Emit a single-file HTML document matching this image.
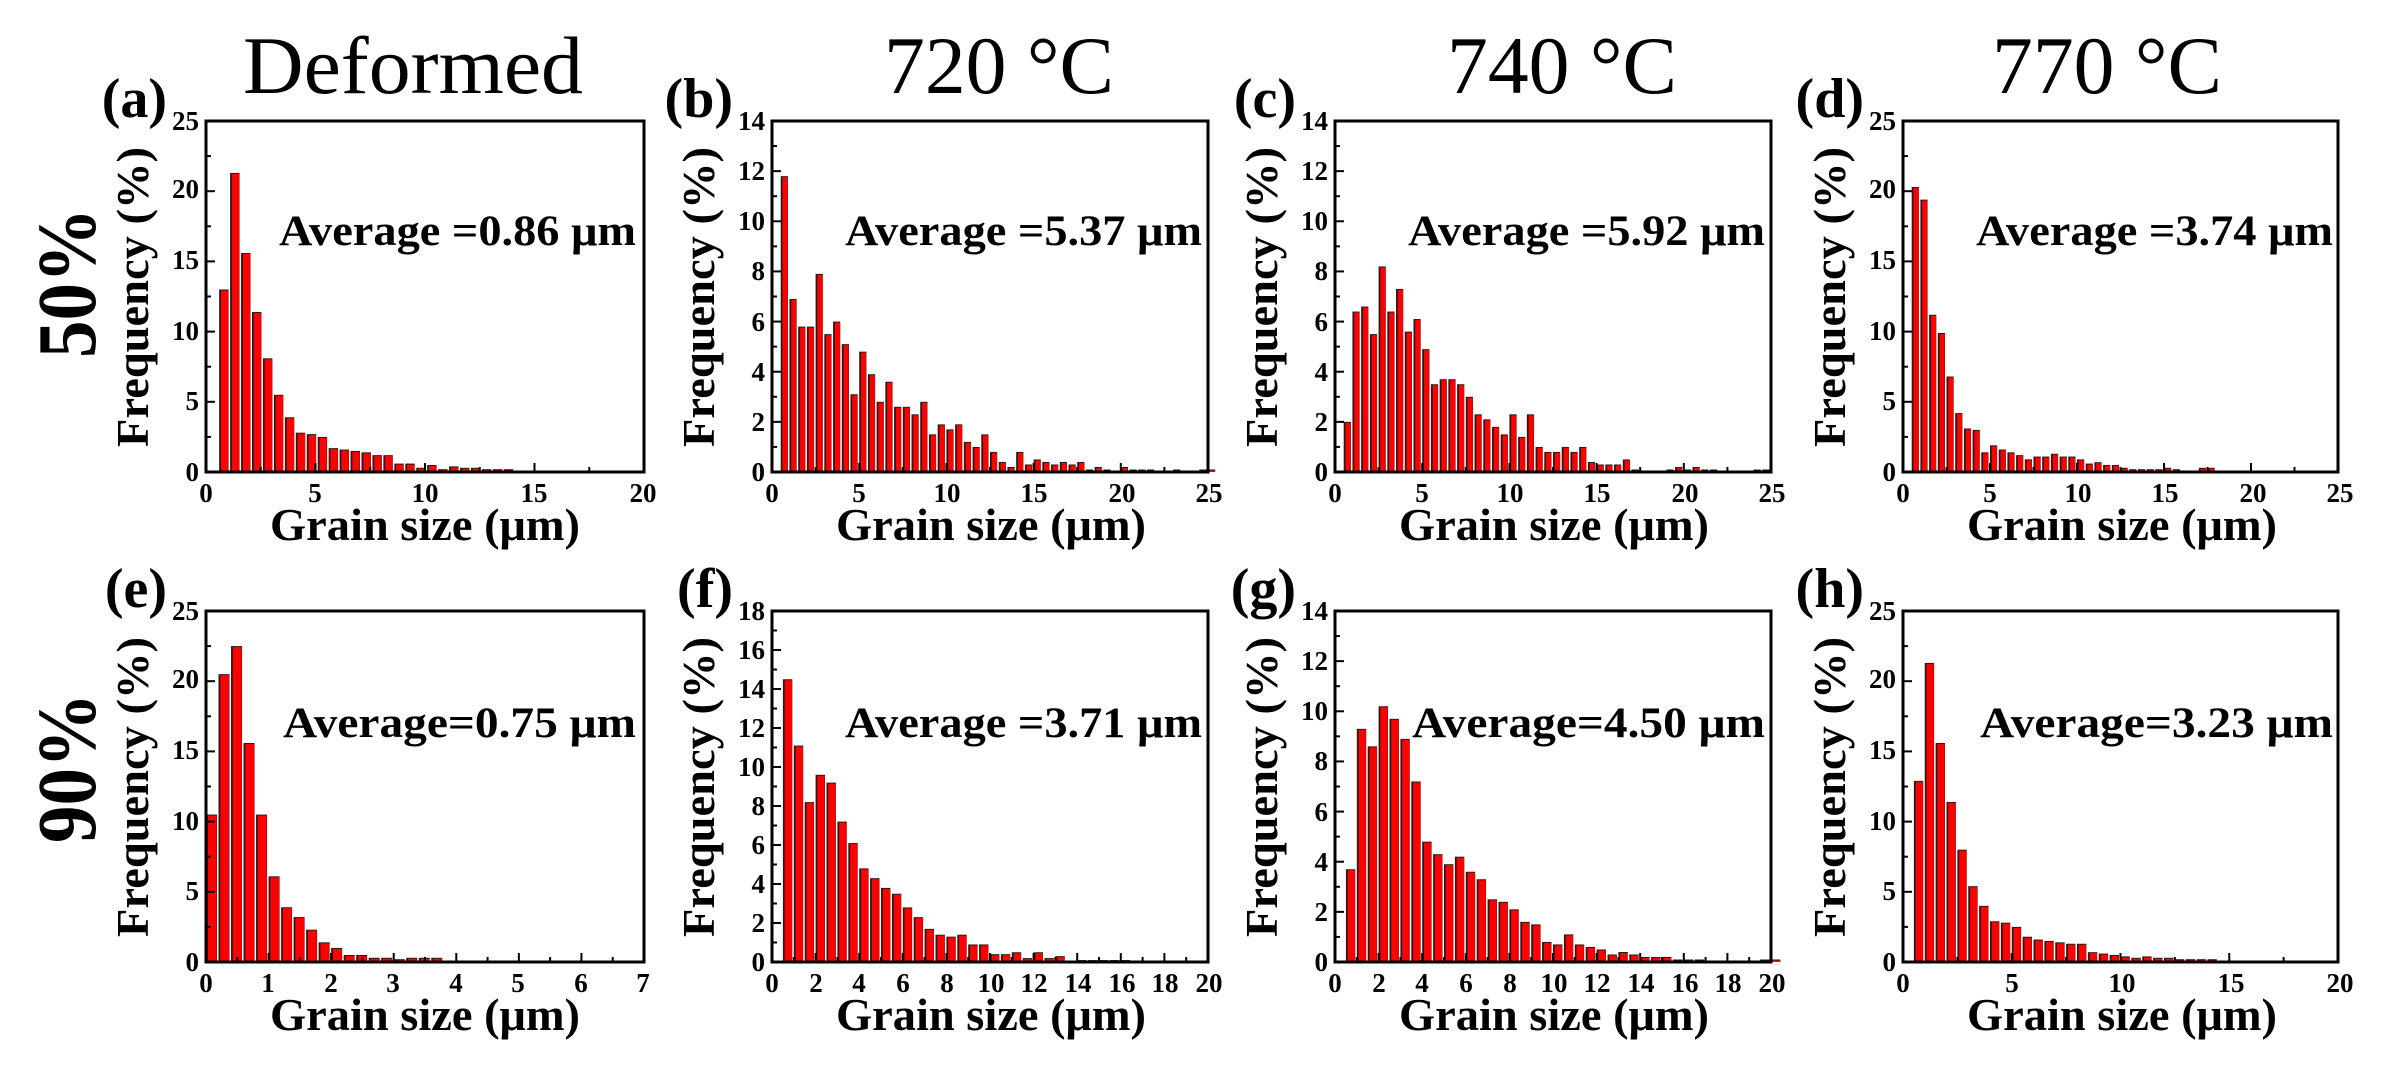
<!DOCTYPE html>
<html><head><meta charset="utf-8"><style>
html,body{margin:0;padding:0;background:#fff;}
svg{display:block;font-family:"Liberation Serif","Noto Serif CJK SC","DejaVu Serif",serif;}
svg text{font-family:"Liberation Serif","Noto Serif CJK SC","DejaVu Serif",serif !important;fill:#000;}
.tk{font-size:27px;font-weight:bold;}
.ax{font-size:46px;font-weight:bold;}
.avg{font-size:43px;font-weight:bold;}
.pl{font-size:56px;font-weight:bold;}
.hd{font-size:82px;}
.rl{font-size:84px;font-weight:bold;}
</style></head><body>
<svg id="s" width="2392" height="1078" viewBox="0 0 2392 1078" xmlns="http://www.w3.org/2000/svg">
<rect width="2392" height="1078" fill="#fff"/>
<text class="hd" x="413" y="93" text-anchor="middle" textLength="340" lengthAdjust="spacingAndGlyphs">Deformed</text>
<text class="hd" x="999" y="93" text-anchor="middle" textLength="230" lengthAdjust="spacingAndGlyphs">720 °C</text>
<text class="hd" x="1562" y="93" text-anchor="middle" textLength="230" lengthAdjust="spacingAndGlyphs">740 °C</text>
<text class="hd" x="2107" y="93" text-anchor="middle" textLength="230" lengthAdjust="spacingAndGlyphs">770 °C</text>
<text class="rl" transform="translate(95,283) rotate(-90)" text-anchor="middle" textLength="150" lengthAdjust="spacingAndGlyphs">50%</text>
<text class="rl" transform="translate(95,768) rotate(-90)" text-anchor="middle" textLength="150" lengthAdjust="spacingAndGlyphs">90%</text>

<!-- (a) -->
<g transform="translate(206,121)">
<g id="pa"></g>
<text class="pl" x="-39" y="-4" text-anchor="end">(a)</text>
<text class="ax" transform="translate(-58,176) rotate(-90)" text-anchor="middle" textLength="300" lengthAdjust="spacingAndGlyphs">Frequency (%)</text>
<text class="ax" x="219" y="419" text-anchor="middle" textLength="310" lengthAdjust="spacingAndGlyphs">Grain size (μm)</text>
<text class="avg" x="73" y="124" textLength="357" lengthAdjust="spacingAndGlyphs">Average =0.86 μm</text>
<g class="tk" text-anchor="middle"><text x="0" y="381">0</text><text x="109" y="381">5</text><text x="219" y="381">10</text><text x="328" y="381">15</text><text x="437" y="381">20</text></g>
<g class="tk" text-anchor="end"><text x="-7" y="360">0</text><text x="-7" y="289">5</text><text x="-7" y="219">10</text><text x="-7" y="148">15</text><text x="-7" y="77">20</text><text x="-7" y="9">25</text></g>
</g>
<!-- (b) -->
<g transform="translate(772,121)">
<g id="pb"></g>
<text class="pl" x="-39" y="-4" text-anchor="end">(b)</text>
<text class="ax" transform="translate(-58,176) rotate(-90)" text-anchor="middle" textLength="300" lengthAdjust="spacingAndGlyphs">Frequency (%)</text>
<text class="ax" x="219" y="419" text-anchor="middle" textLength="310" lengthAdjust="spacingAndGlyphs">Grain size (μm)</text>
<text class="avg" x="73" y="124" textLength="357" lengthAdjust="spacingAndGlyphs">Average =5.37 μm</text>
<g class="tk" text-anchor="middle"><text x="0" y="381">0</text><text x="87" y="381">5</text><text x="175" y="381">10</text><text x="262" y="381">15</text><text x="350" y="381">20</text><text x="437" y="381">25</text></g>
<g class="tk" text-anchor="end"><text x="-7" y="360">0</text><text x="-7" y="310">2</text><text x="-7" y="260">4</text><text x="-7" y="210">6</text><text x="-7" y="159">8</text><text x="-7" y="109">10</text><text x="-7" y="59">12</text><text x="-7" y="9">14</text></g>
</g>
<!-- (c) -->
<g transform="translate(1335,121)">
<g id="pc"></g>
<text class="pl" x="-39" y="-4" text-anchor="end">(c)</text>
<text class="ax" transform="translate(-58,176) rotate(-90)" text-anchor="middle" textLength="300" lengthAdjust="spacingAndGlyphs">Frequency (%)</text>
<text class="ax" x="219" y="419" text-anchor="middle" textLength="310" lengthAdjust="spacingAndGlyphs">Grain size (μm)</text>
<text class="avg" x="73" y="124" textLength="357" lengthAdjust="spacingAndGlyphs">Average =5.92 μm</text>
<g class="tk" text-anchor="middle"><text x="0" y="381">0</text><text x="87" y="381">5</text><text x="175" y="381">10</text><text x="262" y="381">15</text><text x="350" y="381">20</text><text x="437" y="381">25</text></g>
<g class="tk" text-anchor="end"><text x="-7" y="360">0</text><text x="-7" y="310">2</text><text x="-7" y="260">4</text><text x="-7" y="210">6</text><text x="-7" y="159">8</text><text x="-7" y="109">10</text><text x="-7" y="59">12</text><text x="-7" y="9">14</text></g>
</g>
<!-- (d) -->
<g transform="translate(1903,121)">
<g id="pd"></g>
<text class="pl" x="-39" y="-4" text-anchor="end">(d)</text>
<text class="ax" transform="translate(-58,176) rotate(-90)" text-anchor="middle" textLength="300" lengthAdjust="spacingAndGlyphs">Frequency (%)</text>
<text class="ax" x="219" y="419" text-anchor="middle" textLength="310" lengthAdjust="spacingAndGlyphs">Grain size (μm)</text>
<text class="avg" x="73" y="124" textLength="357" lengthAdjust="spacingAndGlyphs">Average =3.74 μm</text>
<g class="tk" text-anchor="middle"><text x="0" y="381">0</text><text x="87" y="381">5</text><text x="175" y="381">10</text><text x="262" y="381">15</text><text x="350" y="381">20</text><text x="437" y="381">25</text></g>
<g class="tk" text-anchor="end"><text x="-7" y="360">0</text><text x="-7" y="289">5</text><text x="-7" y="219">10</text><text x="-7" y="148">15</text><text x="-7" y="77">20</text><text x="-7" y="9">25</text></g>
</g>
<!-- (e) -->
<g transform="translate(206,611)">
<g id="pe"></g>
<text class="pl" x="-39" y="-4" text-anchor="end">(e)</text>
<text class="ax" transform="translate(-58,176) rotate(-90)" text-anchor="middle" textLength="300" lengthAdjust="spacingAndGlyphs">Frequency (%)</text>
<text class="ax" x="219" y="419" text-anchor="middle" textLength="310" lengthAdjust="spacingAndGlyphs">Grain size (μm)</text>
<text class="avg" x="77" y="126" textLength="353" lengthAdjust="spacingAndGlyphs">Average=0.75 μm</text>
<g class="tk" text-anchor="middle"><text x="0" y="381">0</text><text x="62" y="381">1</text><text x="125" y="381">2</text><text x="187" y="381">3</text><text x="250" y="381">4</text><text x="312" y="381">5</text><text x="375" y="381">6</text><text x="437" y="381">7</text></g>
<g class="tk" text-anchor="end"><text x="-7" y="360">0</text><text x="-7" y="289">5</text><text x="-7" y="219">10</text><text x="-7" y="148">15</text><text x="-7" y="77">20</text><text x="-7" y="9">25</text></g>
</g>
<!-- (f) -->
<g transform="translate(772,611)">
<g id="pf"></g>
<text class="pl" x="-39" y="-4" text-anchor="end">(f)</text>
<text class="ax" transform="translate(-58,176) rotate(-90)" text-anchor="middle" textLength="300" lengthAdjust="spacingAndGlyphs">Frequency (%)</text>
<text class="ax" x="219" y="419" text-anchor="middle" textLength="310" lengthAdjust="spacingAndGlyphs">Grain size (μm)</text>
<text class="avg" x="73" y="126" textLength="357" lengthAdjust="spacingAndGlyphs">Average =3.71 μm</text>
<g class="tk" text-anchor="middle"><text x="0" y="381">0</text><text x="44" y="381">2</text><text x="87" y="381">4</text><text x="131" y="381">6</text><text x="175" y="381">8</text><text x="219" y="381">10</text><text x="262" y="381">12</text><text x="306" y="381">14</text><text x="350" y="381">16</text><text x="393" y="381">18</text><text x="437" y="381">20</text></g>
<g class="tk" text-anchor="end"><text x="-7" y="360">0</text><text x="-7" y="321">2</text><text x="-7" y="282">4</text><text x="-7" y="243">6</text><text x="-7" y="204">8</text><text x="-7" y="165">10</text><text x="-7" y="126">12</text><text x="-7" y="87">14</text><text x="-7" y="48">16</text><text x="-7" y="9">18</text></g>
</g>
<!-- (g) -->
<g transform="translate(1335,611)">
<g id="pg"></g>
<text class="pl" x="-39" y="-4" text-anchor="end">(g)</text>
<text class="ax" transform="translate(-58,176) rotate(-90)" text-anchor="middle" textLength="300" lengthAdjust="spacingAndGlyphs">Frequency (%)</text>
<text class="ax" x="219" y="419" text-anchor="middle" textLength="310" lengthAdjust="spacingAndGlyphs">Grain size (μm)</text>
<text class="avg" x="77" y="126" textLength="353" lengthAdjust="spacingAndGlyphs">Average=4.50 μm</text>
<g class="tk" text-anchor="middle"><text x="0" y="381">0</text><text x="44" y="381">2</text><text x="87" y="381">4</text><text x="131" y="381">6</text><text x="175" y="381">8</text><text x="219" y="381">10</text><text x="262" y="381">12</text><text x="306" y="381">14</text><text x="350" y="381">16</text><text x="393" y="381">18</text><text x="437" y="381">20</text></g>
<g class="tk" text-anchor="end"><text x="-7" y="360">0</text><text x="-7" y="310">2</text><text x="-7" y="260">4</text><text x="-7" y="210">6</text><text x="-7" y="159">8</text><text x="-7" y="109">10</text><text x="-7" y="59">12</text><text x="-7" y="9">14</text></g>
</g>
<!-- (h) -->
<g transform="translate(1903,611)">
<g id="ph"></g>
<text class="pl" x="-39" y="-4" text-anchor="end">(h)</text>
<text class="ax" transform="translate(-58,176) rotate(-90)" text-anchor="middle" textLength="300" lengthAdjust="spacingAndGlyphs">Frequency (%)</text>
<text class="ax" x="219" y="419" text-anchor="middle" textLength="310" lengthAdjust="spacingAndGlyphs">Grain size (μm)</text>
<text class="avg" x="77" y="126" textLength="353" lengthAdjust="spacingAndGlyphs">Average=3.23 μm</text>
<g class="tk" text-anchor="middle"><text x="0" y="381">0</text><text x="109" y="381">5</text><text x="219" y="381">10</text><text x="328" y="381">15</text><text x="437" y="381">20</text></g>
<g class="tk" text-anchor="end"><text x="-7" y="360">0</text><text x="-7" y="289">5</text><text x="-7" y="219">10</text><text x="-7" y="148">15</text><text x="-7" y="77">20</text><text x="-7" y="9">25</text></g>
</g>
</svg>
<script>
var NS="http://www.w3.org/2000/svg";
var P={
pa:{w:438,xm:20,ym:25,xs:5,ys:5,x0:0.6,b:0.5,d:[13,21.3,15.6,11.4,8.1,5.5,3.9,2.8,2.7,2.5,1.7,1.6,1.5,1.4,1.2,1.2,0.6,0.6,0.3,0.5,0.2,0.4,0.3,0.3,0.2,0.2,0.2]},
pb:{w:436,xm:25,ym:14,xs:5,ys:2,x0:0.5,b:0.5,d:[11.8,6.9,5.8,5.8,7.9,5.5,6.0,5.1,3.1,4.8,3.9,2.8,3.6,2.6,2.6,2.3,2.8,1.5,1.9,1.7,1.9,1.2,1.0,1.5,0.8,0.4,0.2,0.8,0.3,0.5,0.4,0.3,0.4,0.3,0.4,0.1,0.2,0.1,0,0.2,0.1,0.1,0.1,0,0,0.1,0,0,0.1,0.1]},
pc:{w:436,xm:25,ym:14,xs:5,ys:2,x0:0.5,b:0.5,d:[2.0,6.4,6.6,5.5,8.2,6.4,7.3,5.6,6.1,4.9,3.5,3.7,3.7,3.5,3.0,2.3,2.1,1.8,1.5,2.3,1.4,2.3,1.0,0.8,0.8,1.0,0.8,1.0,0.4,0.3,0.3,0.3,0.5,0.1,0,0,0,0.1,0.2,0.1,0.2,0.1,0.1,0,0,0,0,0.1,0.1]},
pd:{w:435,xm:25,ym:25,xs:5,ys:5,x0:0.5,b:0.5,d:[20.3,19.4,11.2,9.9,6.8,4.2,3.1,3.0,1.4,1.9,1.6,1.4,1.2,0.9,1.1,1.1,1.3,1.1,1.1,0.9,0.6,0.7,0.5,0.5,0.3,0.2,0.2,0.2,0.2,0.3,0.2,0.1,0.1,0.3,0.3,0.1,0,0.1]},
pe:{w:438,xm:7,ym:25,xs:1,ys:5,x0:0,b:0.2,d:[10.5,20.5,22.5,15.6,10.5,6.1,3.9,3.2,2.3,1.4,1.0,0.5,0.5,0.3,0.3,0.2,0.3,0.3,0.3]},
pf:{w:436,xm:20,ym:18,xs:2,ys:2,x0:0.5,b:0.5,d:[14.5,11.1,8.2,9.6,9.2,7.2,6.1,4.8,4.3,3.8,3.5,2.8,2.3,1.7,1.4,1.3,1.4,0.9,0.9,0.4,0.4,0.5,0.2,0.5,0.2,0.3,0,0.1,0.1,0.1,0.1,0.1]},
pg:{w:436,xm:20,ym:14,xs:2,ys:2,x0:0.5,b:0.5,d:[3.7,9.3,8.6,10.2,9.7,8.9,7.2,4.8,4.3,3.9,4.2,3.6,3.3,2.5,2.4,2.1,1.6,1.5,0.8,0.7,1.1,0.7,0.6,0.5,0.3,0.4,0.3,0.2,0.2,0.2,0.1,0.1,0.1,0,0,0,0,0.05,0.1,0.1]},
ph:{w:435,xm:20,ym:25,xs:5,ys:5,x0:0.5,b:0.5,d:[12.9,21.3,15.6,11.4,8.0,5.4,4.0,2.9,2.8,2.5,1.8,1.6,1.5,1.4,1.3,1.3,0.7,0.6,0.5,0.4,0.3,0.4,0.3,0.3,0.2,0.2,0.2,0.2,0.1]}
};
function el(t,a,p){var e=document.createElementNS(NS,t);for(var k in a)e.setAttribute(k,a[k]);p.appendChild(e);return e;}
for(var id in P){var c=P[id],g=document.getElementById(id),H=351,W=c.w;
var sx=W/c.xm,sy=H/c.ym;
c.d.forEach(function(v,i){if(v<=0)return;var x=(c.x0+i*c.b)*sx,bw=c.b*sx,h=v*sy;
el('rect',{x:x,y:H-h,width:bw-1.5,height:h,fill:'#2a1a1a'},g);
el('rect',{x:x+1.8,y:H-h+1,width:bw-3.6,height:h-1,fill:'#ff0000'},g);});
for(var v=0;v<=c.xm+1e-9;v+=c.xs/2){var x=v*sx,maj=Math.abs(v/c.xs-Math.round(v/c.xs))<1e-6;
el('line',{x1:x,y1:H,x2:x,y2:H-(maj?9:5),stroke:'#000','stroke-width':2},g);}
for(var v=0;v<=c.ym+1e-9;v+=c.ys/2){var y=H-v*sy,maj=Math.abs(v/c.ys-Math.round(v/c.ys))<1e-6;
el('line',{x1:0,y1:y,x2:(maj?9:5),y2:y,stroke:'#000','stroke-width':2},g);}
el('rect',{x:0,y:0,width:W,height:H,fill:'none',stroke:'#000','stroke-width':3},g);}
</script>
</body></html>
